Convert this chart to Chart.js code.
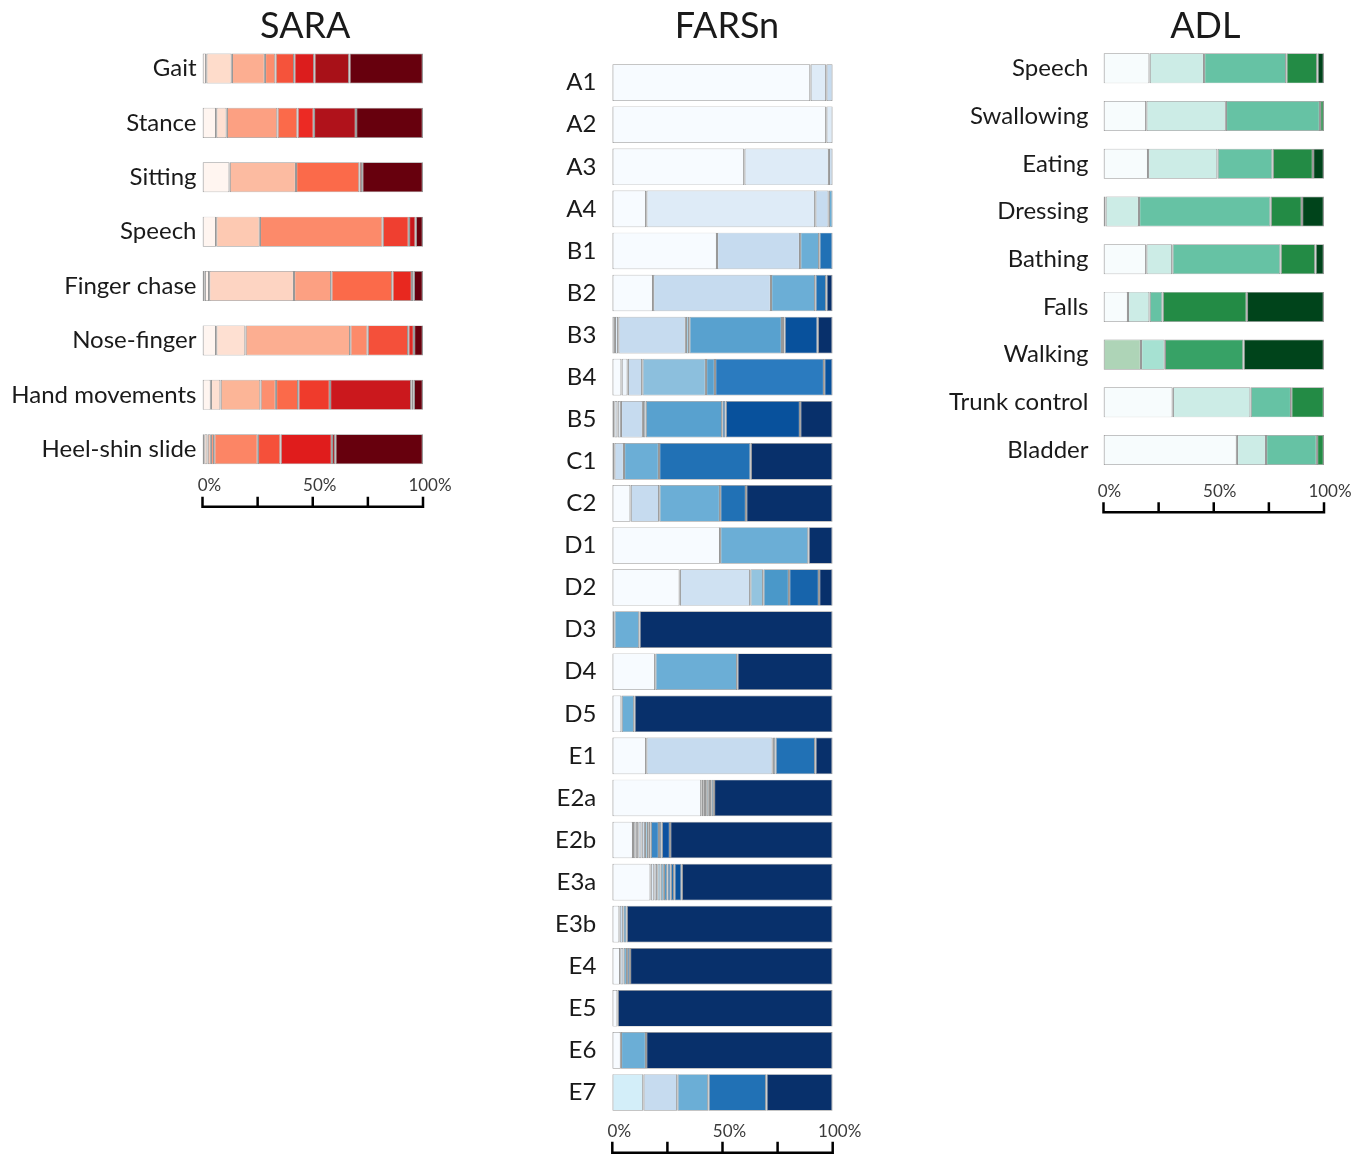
<!DOCTYPE html>
<html>
<head>
<meta charset="utf-8">
<script src="https://cdn.jsdelivr.net/npm/chart.js@4.4.0/dist/chart.umd.min.js"></script>
<style>
  html, body { margin: 0; padding: 0; background: #fff; overflow: hidden; width: 1367px; height: 1158px; }
  .panel { position: absolute; top: 0; }
  .panel canvas { display: block; }
</style>
</head>
<body>
<div class="panel" style="left:0px"><canvas id="sara" width="610" height="525"></canvas></div>
<div class="panel" style="left:480px"><canvas id="farsn" width="494" height="1158"></canvas></div>
<div class="panel" style="left:930px"><canvas id="adl" width="437" height="535"></canvas></div>
<script>
// ---- shared axis ticks (percent of patients) ----
const tickValues = [0, 25, 50, 75, 100];
const tickLabelStep = 50;

// ---- SARA: share of patients at each item score (low -> high) ----
const saraCategories = ['Gait', 'Stance', 'Sitting', 'Speech', 'Finger chase', 'Nose-finger', 'Hand movements', 'Heel-shin slide'];
const saraShares = [
  [1.7, 11.6, 15.0, 4.8, 8.5, 9.1, 15.9, 33.4],
  [6.2, 4.8, 23.0, 9.1, 7.4, 19.1, 30.4],
  [12.3, 30.1, 28.8, 1.2, 27.6],
  [6.2, 19.8, 55.7, 11.9, 3.1, 3.3],
  [1.0, 2.0, 38.5, 16.9, 27.7, 8.9, 0.8, 4.2],
  [6.2, 13.3, 47.5, 7.9, 18.4, 2.6, 4.1],
  [3.8, 4.4, 18.1, 7.0, 10.1, 14.4, 36.9, 1.1, 4.2],
  [0.8, 1.5, 1.5, 1.5, 19.8, 10.3, 23.3, 1.5, 39.8]
];
const saraColors = [
  ['#fff5f0', '#fedccb', '#fcae91', '#fc8d6d', '#f5533b', '#dc1d1d', '#a81118', '#67000d'],
  ['#fff5f0', '#fee0d2', '#fca082', '#fb6a4a', '#ec2a24', '#b0121b', '#67000d'],
  ['#fff5f0', '#fcbba1', '#fb6a4a', '#cb181d', '#67000d'],
  ['#fff5f0', '#fdc9b2', '#fc8a6a', '#ef3f30', '#c8171c', '#67000d'],
  ['#fff5f0', '#fff5f0', '#fdd4c2', '#fca082', '#fb6a4a', '#e8281f', '#a50f15', '#67000d'],
  ['#fff5f0', '#fee0d2', '#fcae91', '#fc8a6a', '#f4503a', '#e02a24', '#67000d'],
  ['#fff5f0', '#fee0d2', '#fcb597', '#fc8f6f', '#fb6a4a', '#ef3b2c', '#cb181d', '#a50f15', '#67000d'],
  ['#fff5f0', '#fee0d2', '#fcbba1', '#fc9272', '#fc8565', '#f5503a', '#e01c1c', '#a50f15', '#67000d']
];

// ---- FARSn ----
const farsCategories = ['A1', 'A2', 'A3', 'A4', 'B1', 'B2', 'B3', 'B4', 'B5', 'C1', 'C2', 'D1', 'D2', 'D3', 'D4', 'D5',
  'E1', 'E2a', 'E2b', 'E3a', 'E3b', 'E4', 'E5', 'E6', 'E7'];
const farsShares = [
  [89.9, 7.2, 2.9],
  [97.1, 2.9],
  [59.9, 38.4, 1.7],
  [15.4, 76.7, 6.1, 1.8],
  [47.5, 37.7, 8.7, 6.1],
  [18.5, 53.5, 20.1, 5.0, 2.9],
  [1.2, 1.5, 30.7, 1.5, 42.1, 1.1, 15.1, 6.8],
  [4.2, 2.8, 6.6, 28.9, 4.1, 49.5, 3.9],
  [0.9, 1.5, 1.5, 10.0, 1.2, 34.8, 1.5, 33.8, 14.8],
  [0.9, 4.4, 15.9, 41.6, 37.2],
  [8.3, 13.0, 27.6, 11.8, 39.3],
  [48.9, 40.1, 11.0],
  [30.6, 32.0, 5.9, 11.7, 13.6, 6.2],
  [0.9, 11.4, 87.7],
  [19.5, 37.2, 43.3],
  [4.2, 5.8, 90.0],
  [15.4, 57.4, 1.2, 18.1, 7.9],
  [40.4, 1.1, 1.1, 1.2, 1.1, 1.2, 53.9],
  [9.4, 1.2, 1.2, 1.5, 1.5, 1.5, 1.1, 3.8, 1.2, 3.8, 73.8],
  [17.4, 1.7, 1.3, 1.5, 1.5, 1.6, 1.5, 1.6, 3.4, 68.5],
  [3.3, 1.7, 1.5, 93.5],
  [3.6, 1.5, 1.6, 1.3, 92.0],
  [2.4, 97.6],
  [3.9, 11.4, 84.7],
  [14.1, 15.4, 14.1, 26.3, 30.1]
];
const farsColors = [
  ['#f7fbff', '#deebf7', '#c6dbef'],
  ['#f7fbff', '#deebf7'],
  ['#f7fbff', '#deebf7', '#c6dbef'],
  ['#f7fbff', '#deebf7', '#c6dbef', '#6baed6'],
  ['#f7fbff', '#c6dbef', '#6baed6', '#2171b5'],
  ['#f7fbff', '#c6dbef', '#6baed6', '#2171b5', '#08306b'],
  ['#f7fbff', '#deebf7', '#c6dbef', '#9ecae1', '#58a1cf', '#2171b5', '#08519c', '#08306b'],
  ['#f7fbff', '#eef5fc', '#c6dbef', '#8cbfdd', '#5aa1cf', '#2b7bbf', '#08519c'],
  ['#f7fbff', '#deebf7', '#deebf7', '#c6dbef', '#9ecae1', '#58a1cf', '#2171b5', '#08519c', '#08306b'],
  ['#f7fbff', '#c6dbef', '#6baed6', '#2171b5', '#08306b'],
  ['#f7fbff', '#c6dbef', '#6baed6', '#2171b5', '#08306b'],
  ['#f7fbff', '#6baed6', '#08306b'],
  ['#f7fbff', '#cfe1f2', '#94c4df', '#4a98c9', '#1764ab', '#08306b'],
  ['#f7fbff', '#6baed6', '#08306b'],
  ['#f7fbff', '#6baed6', '#08306b'],
  ['#f7fbff', '#6baed6', '#08306b'],
  ['#f7fbff', '#c6dbef', '#6baed6', '#2171b5', '#08306b'],
  ['#f7fbff', '#deebf7', '#c6dbef', '#9ecae1', '#6baed6', '#4292c6', '#08306b'],
  ['#f7fbff', '#deebf7', '#deebf7', '#c6dbef', '#c6dbef', '#9ecae1', '#6baed6', '#3a87c5', '#2171b5', '#0d52a0', '#08306b'],
  ['#f7fbff', '#deebf7', '#c6dbef', '#9ecae1', '#6baed6', '#4292c6', '#2171b5', '#2171b5', '#08519c', '#08306b'],
  ['#f7fbff', '#c6dbef', '#4292c6', '#08306b'],
  ['#f7fbff', '#c6dbef', '#6baed6', '#2171b5', '#08306b'],
  ['#f7fbff', '#08306b'],
  ['#f7fbff', '#6baed6', '#08306b'],
  ['#d3eef9', '#c6dbef', '#6baed6', '#2171b5', '#08306b']
];

// ---- ADL ----
const adlCategories = ['Speech', 'Swallowing', 'Eating', 'Dressing', 'Bathing', 'Falls', 'Walking', 'Trunk control', 'Bladder'];
const adlShares = [
  [20.9, 24.7, 37.3, 14.1, 3.0],
  [19.4, 36.1, 42.7, 1.8],
  [20.2, 31.5, 25.0, 18.3, 5.0],
  [0.9, 15.2, 59.7, 14.2, 10.0],
  [19.4, 11.8, 49.1, 15.8, 3.9],
  [11.1, 9.8, 5.9, 38.2, 35.0],
  [17.0, 10.8, 35.7, 36.5],
  [31.4, 35.3, 18.4, 14.9],
  [60.5, 13.2, 23.1, 3.2]
];
const adlColors = [
  ['#f7fcfd', '#ccece6', '#66c2a4', '#238b45', '#00441b'],
  ['#f7fcfd', '#ccece6', '#66c2a4', '#238b45'],
  ['#f7fcfd', '#ccece6', '#66c2a4', '#238b45', '#00441b'],
  ['#f7fcfd', '#ccece6', '#66c2a4', '#238b45', '#00441b'],
  ['#f7fcfd', '#ccece6', '#66c2a4', '#238b45', '#00441b'],
  ['#f7fcfd', '#ccece6', '#66c2a4', '#238b45', '#00441b'],
  ['#aed4b7', '#a6e1d2', '#37a266', '#00441b'],
  ['#f7fcfd', '#ccece6', '#66c2a4', '#238b45'],
  ['#f7fcfd', '#ccece6', '#66c2a4', '#238b45']
];

// Bottom axis: baseline with upward tick marks, drawn from the x scale
const baselineAxis = {
  id: 'baselineAxis',
  afterDraw(chart, args, opts) {
    const { ctx, chartArea, scales } = chart;
    const x = scales.x;
    const y = chartArea.bottom + opts.offset;
    ctx.save();
    ctx.strokeStyle = '#000';
    ctx.lineWidth = 2.5;
    ctx.lineCap = 'butt';
    ctx.beginPath();
    ctx.moveTo(x.getPixelForValue(0) - 1.25, y);
    ctx.lineTo(x.getPixelForValue(100) + 1.25, y);
    tickValues.forEach(v => {
      const px = x.getPixelForValue(v);
      ctx.moveTo(px, y);
      ctx.lineTo(px, y - opts.tick);
    });
    ctx.stroke();
    ctx.restore();
  }
};

// Panel heading, centred over the bars (with a small sideways shift)
const panelTitle = {
  id: 'panelTitle',
  afterDraw(chart, args, opts) {
    const { ctx, chartArea } = chart;
    ctx.save();
    ctx.font = opts.font;
    ctx.fillStyle = opts.color;
    ctx.textAlign = 'center';
    ctx.textBaseline = 'middle';
    ctx.fillText(opts.text, (chartArea.left + chartArea.right) / 2 + opts.shift, opts.y);
    ctx.restore();
  }
};

// One dataset per segment position; each bar carries its own colour for that position
function buildDatasets(shares, colors, barPct) {
  const n = Math.max(...shares.map(s => s.length));
  const sets = [];
  for (let k = 0; k < n; k++) {
    sets.push({
      data: shares.map(s => (k < s.length ? s[k] : 0)),
      backgroundColor: colors.map(c => (k < c.length ? c[k] : 'rgba(0,0,0,0)')),
      borderColor: '#989898',
      borderWidth: { top: 0.7, bottom: 0.7, left: 1.2, right: 1.2 },
      borderSkipped: false,
      barPercentage: barPct,
      categoryPercentage: 1
    });
  }
  return sets;
}

function makePanel(id, title, categories, shares, colors, p) {
  new Chart(document.getElementById(id), {
    type: 'bar',
    data: { labels: categories, datasets: buildDatasets(shares, colors, p.barPct) },
    plugins: [baselineAxis, panelTitle],
    options: {
      indexAxis: 'y',
      responsive: false,
      animation: false,
      devicePixelRatio: 1,
      layout: { padding: { left: 0, right: p.padRight, top: p.top, bottom: 0 } },
      plugins: {
        legend: { display: false },
        tooltip: { enabled: false },
        title: { display: false },
        panelTitle: { text: title, font: '36px Lato', color: '#1a1a1a', y: 26.4, shift: p.titleShift },
        baselineAxis: { offset: p.axisOffset, tick: p.tickLen }
      },
      scales: {
        x: {
          type: 'linear',
          stacked: true,
          min: 0,
          max: 100,
          grid: { display: false, drawTicks: false },
          border: { display: false },
          ticks: {
            stepSize: tickLabelStep,
            callback: v => v + '%',
            color: '#3a3a3a',
            font: { family: 'Lato', size: 17 },
            padding: p.tickPad,
            labelOffset: p.labelOffset,
            maxRotation: 0,
            autoSkip: false
          },
          afterFit: s => { s.height = p.xAxisH; }
        },
        y: {
          type: 'category',
          stacked: true,
          grid: { display: false, drawTicks: false },
          border: { display: false },
          ticks: {
            color: '#1a1a1a',
            font: { family: 'Lato', size: 24 },
            padding: p.labelPad,
            autoSkip: false
          },
          afterFit: s => { s.width = p.yAxisW; }
        }
      }
    }
  });
}

makePanel('sara', 'SARA', saraCategories, saraShares, saraColors, {
  barPct: 0.552, padRight: 187, top: 41.3, xAxisH: 48.6, yAxisW: 202.5, titleShift: -7.5,
  labelPad: 6, tickPad: -1, labelOffset: 7, axisOffset: 30.3, tickLen: 10
});
makePanel('farsn', 'FARSn', farsCategories, farsShares, farsColors, {
  barPct: 0.87, padRight: 141.3, top: 61.6, xAxisH: 44.5, yAxisW: 132.3, titleShift: 4.5,
  labelPad: 16, tickPad: 8, labelOffset: 7, axisOffset: 39.2, tickLen: 11
});
makePanel('adl', 'ADL', adlCategories, adlShares, adlColors, {
  barPct: 0.629, padRight: 43, top: 44.5, xAxisH: 61.1, yAxisW: 173.5, titleShift: -8.5,
  labelPad: 15, tickPad: 7, labelOffset: 6, axisOffset: 38.4, tickLen: 10
});
</script>
</body>
</html>
